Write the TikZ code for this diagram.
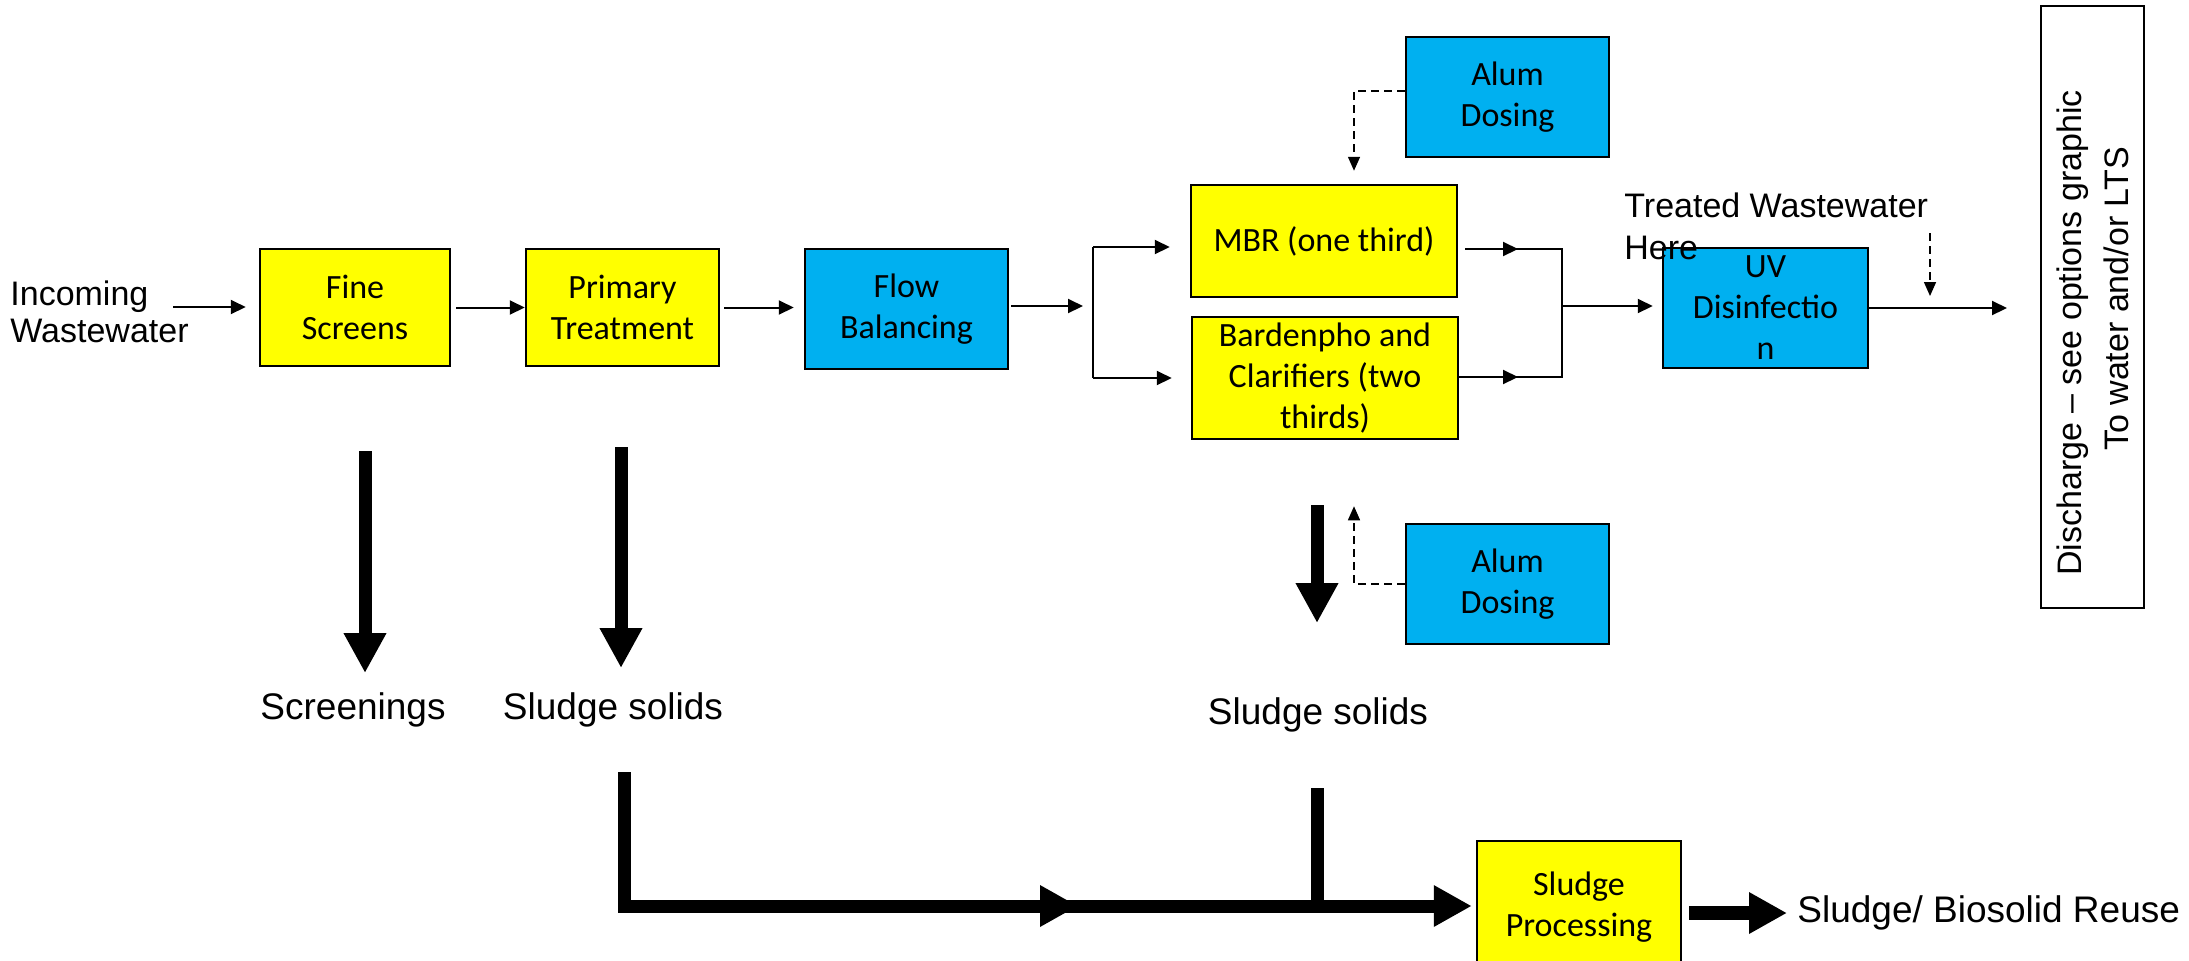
\documentclass[tikz,border=0pt]{standalone}
\usepackage{fontspec}
\setmainfont{Liberation Sans}
\newfontfamily\carlito{Carlito}
\usetikzlibrary{arrows.meta}
\definecolor{boxyellow}{HTML}{FFFF00}
\definecolor{boxblue}{HTML}{00B0F0}
\begin{document}
\begin{tikzpicture}[x=0.5pt,y=-0.5pt,
  procbox/.style={draw=black, line width=1.25pt, inner sep=0pt, align=center,
    font=\carlito\fontsize{17pt}{20.5pt}\selectfont},
  ybox/.style={procbox, fill=boxyellow},
  bbox/.style={procbox, fill=boxblue},
  lab/.style={inner sep=0pt, font=\fontsize{17pt}{18.5pt}\selectfont},
  biglab/.style={inner sep=0pt, font=\fontsize{18.5pt}{21pt}\selectfont},
  plain/.style={line width=1pt},
  arr/.style={line width=1pt, -{Triangle[length=7.5pt,width=7pt]}},
  darr/.style={line width=0.75pt, dash pattern=on 4pt off 2.5pt, -{Triangle[length=7pt,width=6pt]}},
  bigarr/.style={line width=6.5pt, -{Triangle[length=20pt,width=20pt]}},
  bigline/.style={line width=6.5pt, line join=miter},
  bigarrh/.style={line width=6.5pt, line join=miter, -{Triangle[length=19pt,width=19.5pt]}}
]
\clip (0,0) rectangle (2189,960);
\fill[white] (0,0) rectangle (2189,960);

% process boxes
\node[ybox, minimum width=95pt, minimum height=58.5pt] (fs) at (355,307.5) {Fine\\Screens};
\node[ybox, minimum width=96.5pt, minimum height=58.5pt] (pt) at (622.5,307.5) {Primary\\Treatment};
\node[bbox, minimum width=101.5pt, minimum height=60pt] (fb) at (906.5,309) {Flow\\Balancing};
\node[ybox, minimum width=133pt, minimum height=56pt] (mbr) at (1324,241) {MBR (one third)};
\node[ybox, minimum width=133pt, minimum height=61pt] (bard) at (1325,378) {Bardenpho and\\Clarifiers (two\\thirds)};
\node[bbox, minimum width=101.5pt, minimum height=60pt] (alum1) at (1507.5,97) {Alum\\Dosing};
\node[bbox, minimum width=101.5pt, minimum height=60pt] (alum2) at (1507.5,584) {Alum\\Dosing};
\node[bbox, minimum width=102.5pt, minimum height=60pt] (uv) at (1765.5,308) {UV\\Disinfectio\\n};
\node[ybox, minimum width=102pt, minimum height=66pt] (sp) at (1579,907) {Sludge\\Processing};
\node[draw=black, line width=1pt, fill=white, minimum width=51.5pt, minimum height=301pt, inner sep=0pt] (dis) at (2092.5,307) {};
\node[lab, rotate=90] (dis1) at (2073,333) {Discharge – see options graphic};
\node[lab, rotate=90] (dis2) at (2116,299) {To water and/or LTS};

% labels
\node[lab, anchor=west, align=left] (inc) at (10,312) {Incoming\\Wastewater};
\node[lab, anchor=west, align=left, font=\fontsize{17pt}{21pt}\selectfont] (treated) at (1624,226) {Treated Wastewater\\Here};
\node[biglab] (scr) at (353,710) {Screenings};
\node[biglab] (ss1) at (613,710) {Sludge solids};
\node[biglab] (ss2) at (1318,715) {Sludge solids};
\node[biglab, anchor=west] (reuse) at (1797,913) {Sludge/ Biosolid Reuse};

% main flow
\coordinate (inA) at (173,307);
\draw[arr, shorten >=6.5pt] (inA) -- (inA -| fs.west);
\draw[arr, shorten <=2.5pt] (fs.east) -- (pt.west);
\draw[arr, shorten <=2pt, shorten >=5pt] (pt.east) -- (pt.east -| fb.west);
\coordinate (split) at (1093,306);
\draw[arr, shorten <=1pt, shorten >=5pt] (fb.east |- split) -- (split);
\coordinate (sTop) at (1093,247);
\coordinate (sBot) at (1093,378);
\draw[plain] (sTop) -- (sBot);
\draw[arr, shorten >=10pt] (sTop) -- (sTop -| mbr.west);
\draw[arr, shorten >=9.5pt] (sBot) -- (sBot -| bard.west);

\coordinate (jTop) at (1562,249);
\coordinate (jBot) at (1562,377);
\coordinate (join) at (1562,306);
\coordinate (mTip) at (1518,249);
\coordinate (bTip) at (1518,377);
\draw[plain, shorten <=3.5pt] (mbr.east |- jTop) -- (jTop) -- (jBot) -- (bard.east |- jBot);
\draw[arr, shorten <=3.5pt] (mbr.east |- mTip) -- (mTip);
\draw[arr, shorten <=3pt] (bard.east |- bTip) -- (bTip);
\draw[plain] (jTop) -- (jBot);
\draw[arr, shorten >=4.5pt] (join) -- (join -| uv.west);
\draw[arr, shorten >=16.5pt] (uv.east) -- (uv.east -| dis.west);

% dashed dosing / treated arrows
\coordinate (dTop) at (1930,233);
\coordinate (dTip) at (1930,296);
\draw[darr] (dTop) -- (dTip);
\coordinate (a1c) at (1354,91);
\draw[darr, shorten >=6.5pt] (alum1.west |- a1c) -- (a1c) -- (a1c |- mbr.north);
\coordinate (a2c) at (1354,584);
\draw[darr, shorten >=33pt] (alum2.west) -- (a2c) -- (a2c |- bard.south);

% solids arrows
\coordinate (scrTop) at (365,451);
\coordinate (scrTip) at (365,673);
\draw[bigarr] (scrTop) -- (scrTip);
\coordinate (ssTop) at (621,447);
\coordinate (ssTip) at (621,668);
\draw[bigarr] (ssTop) -- (ssTip);
\coordinate (s2Top) at (1317,505);
\coordinate (s2Tip) at (1317,623);
\draw[bigarr] (s2Top) -- (s2Tip);

% sludge collection line
\coordinate (lTop) at (624,772);
\coordinate (lCorner) at (624,906);
\coordinate (lMid) at (1078,906);
\coordinate (rTop) at (1317,788);
\draw[bigarrh, shorten >=2pt] (lTop) -- (lCorner) -- (sp.west |- lCorner);
\draw[bigarrh] (lCorner) -- (lMid);
\draw[bigline] (rTop) -- (rTop |- lCorner);
\draw[bigarrh, line width=7pt, shorten <=3.5pt, shorten >=5pt] (sp.east |- reuse.west) -- (reuse.west);
\end{tikzpicture}
\end{document}
